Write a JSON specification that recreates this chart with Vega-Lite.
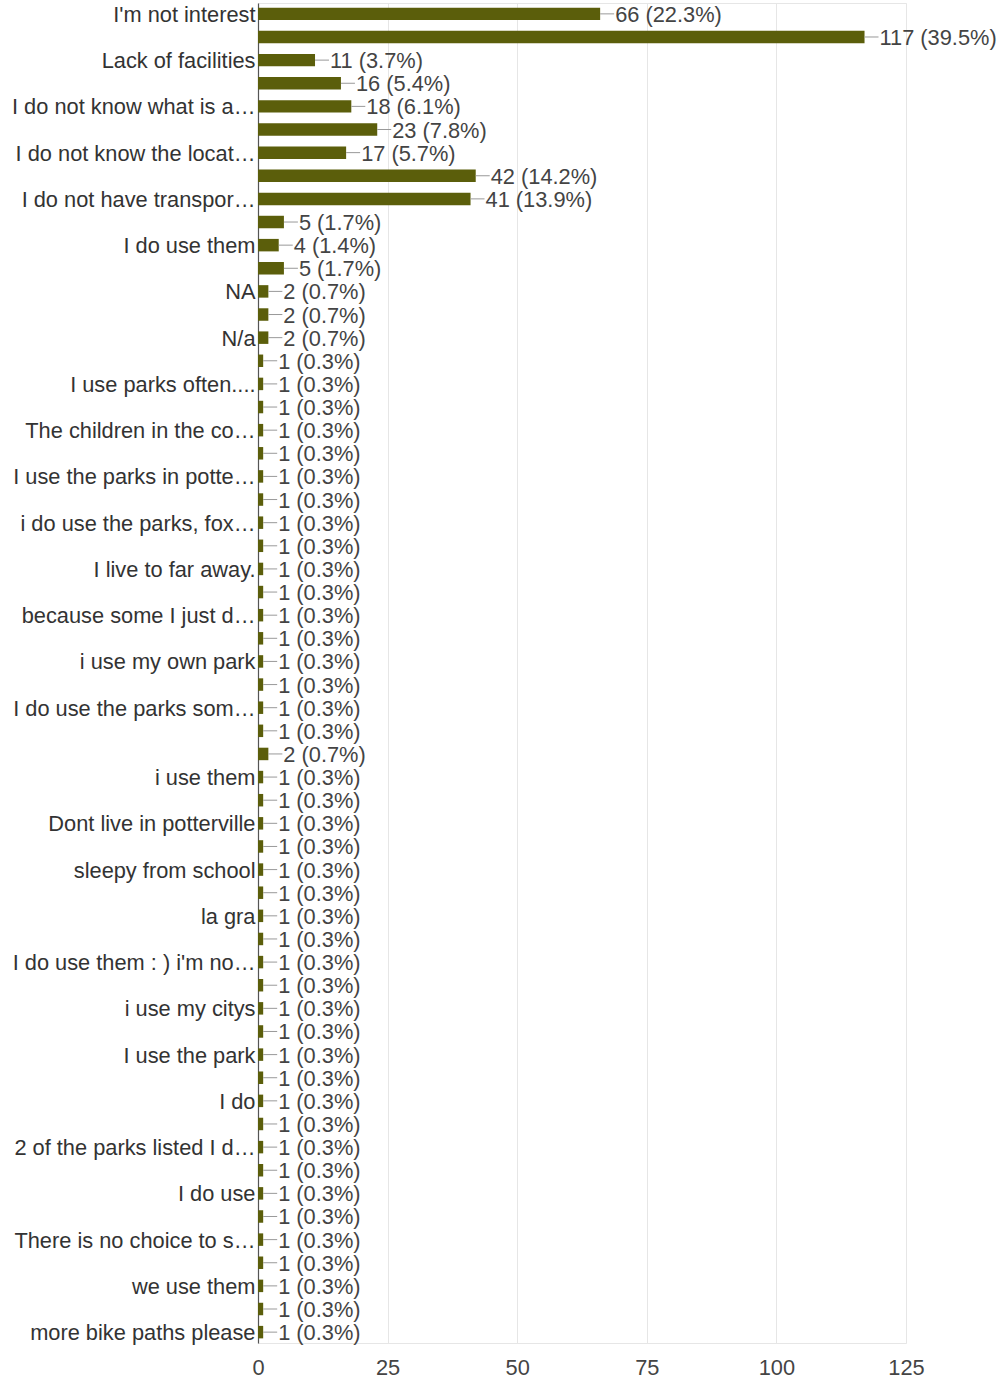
{
  "$schema": "https://vega.github.io/schema/vega-lite/v6.json",
  "autosize": "none",
  "width": 648,
  "height": 1340,
  "padding": {"left": 258, "top": 3, "right": 95, "bottom": 38},
  "background": "white",
  "config": {
    "view": {"stroke": "#e6e6e6", "strokeWidth": 1},
    "font": "Liberation Sans"
  },
  "data": {
    "values": [
      {"k": "I'm not interest", "v": 66, "t": "66 (22.3%)"},
      {"k": "_h02", "v": 117, "t": "117 (39.5%)"},
      {"k": "Lack of facilities", "v": 11, "t": "11 (3.7%)"},
      {"k": "_h04", "v": 16, "t": "16 (5.4%)"},
      {"k": "I do not know what is a…", "v": 18, "t": "18 (6.1%)"},
      {"k": "_h06", "v": 23, "t": "23 (7.8%)"},
      {"k": "I do not know the locat…", "v": 17, "t": "17 (5.7%)"},
      {"k": "_h08", "v": 42, "t": "42 (14.2%)"},
      {"k": "I do not have transpor…", "v": 41, "t": "41 (13.9%)"},
      {"k": "_h10", "v": 5, "t": "5 (1.7%)"},
      {"k": "I do use them", "v": 4, "t": "4 (1.4%)"},
      {"k": "_h12", "v": 5, "t": "5 (1.7%)"},
      {"k": "NA", "v": 2, "t": "2 (0.7%)"},
      {"k": "_h14", "v": 2, "t": "2 (0.7%)"},
      {"k": "N/a", "v": 2, "t": "2 (0.7%)"},
      {"k": "_h16", "v": 1, "t": "1 (0.3%)"},
      {"k": "I use parks often....", "v": 1, "t": "1 (0.3%)"},
      {"k": "_h18", "v": 1, "t": "1 (0.3%)"},
      {"k": "The children in the co…", "v": 1, "t": "1 (0.3%)"},
      {"k": "_h20", "v": 1, "t": "1 (0.3%)"},
      {"k": "I use the parks in potte…", "v": 1, "t": "1 (0.3%)"},
      {"k": "_h22", "v": 1, "t": "1 (0.3%)"},
      {"k": "i do use the parks, fox…", "v": 1, "t": "1 (0.3%)"},
      {"k": "_h24", "v": 1, "t": "1 (0.3%)"},
      {"k": "I live to far away.", "v": 1, "t": "1 (0.3%)"},
      {"k": "_h26", "v": 1, "t": "1 (0.3%)"},
      {"k": "because some I just d…", "v": 1, "t": "1 (0.3%)"},
      {"k": "_h28", "v": 1, "t": "1 (0.3%)"},
      {"k": "i use my own park", "v": 1, "t": "1 (0.3%)"},
      {"k": "_h30", "v": 1, "t": "1 (0.3%)"},
      {"k": "I do use the parks som…", "v": 1, "t": "1 (0.3%)"},
      {"k": "_h32", "v": 1, "t": "1 (0.3%)"},
      {"k": "_h33", "v": 2, "t": "2 (0.7%)"},
      {"k": "i use them", "v": 1, "t": "1 (0.3%)"},
      {"k": "_h35", "v": 1, "t": "1 (0.3%)"},
      {"k": "Dont live in potterville", "v": 1, "t": "1 (0.3%)"},
      {"k": "_h37", "v": 1, "t": "1 (0.3%)"},
      {"k": "sleepy from school", "v": 1, "t": "1 (0.3%)"},
      {"k": "_h39", "v": 1, "t": "1 (0.3%)"},
      {"k": "la gra", "v": 1, "t": "1 (0.3%)"},
      {"k": "_h41", "v": 1, "t": "1 (0.3%)"},
      {"k": "I do use them : ) i'm no…", "v": 1, "t": "1 (0.3%)"},
      {"k": "_h43", "v": 1, "t": "1 (0.3%)"},
      {"k": "i use my citys", "v": 1, "t": "1 (0.3%)"},
      {"k": "_h45", "v": 1, "t": "1 (0.3%)"},
      {"k": "I use the park", "v": 1, "t": "1 (0.3%)"},
      {"k": "_h47", "v": 1, "t": "1 (0.3%)"},
      {"k": "I do", "v": 1, "t": "1 (0.3%)"},
      {"k": "_h49", "v": 1, "t": "1 (0.3%)"},
      {"k": "2 of the parks listed I d…", "v": 1, "t": "1 (0.3%)"},
      {"k": "_h51", "v": 1, "t": "1 (0.3%)"},
      {"k": "I do use", "v": 1, "t": "1 (0.3%)"},
      {"k": "_h53", "v": 1, "t": "1 (0.3%)"},
      {"k": "There is no choice to s…", "v": 1, "t": "1 (0.3%)"},
      {"k": "_h55", "v": 1, "t": "1 (0.3%)"},
      {"k": "we use them", "v": 1, "t": "1 (0.3%)"},
      {"k": "_h57", "v": 1, "t": "1 (0.3%)"},
      {"k": "more bike paths please", "v": 1, "t": "1 (0.3%)"}
    ]
  },
  "encoding": {
    "y": {
      "field": "k",
      "type": "nominal",
      "sort": null,
      "scale": {"paddingInner": 0.46, "paddingOuter": 0.2},
      "axis": {
        "title": null,
        "ticks": false,
        "labelPadding": 3,
        "labelFontSize": 21.8,
        "labelColor": "#333333",
        "labelLimit": 0,
        "labelBaseline": "middle",
        "labelOffset": 1,
        "labelExpr": "indexof(datum.label, '_h') == 0 ? '' : datum.label",
        "domainColor": "#555555",
        "domainWidth": 1.2,
        "grid": false
      }
    }
  },
  "layer": [
    {
      "mark": {"type": "bar", "color": "#5b5e0b"},
      "encoding": {
        "x": {
          "field": "v",
          "type": "quantitative",
          "scale": {"domain": [0, 125], "nice": false},
          "axis": {
            "title": null,
            "values": [0, 25, 50, 75, 100, 125],
            "domain": false,
            "ticks": false,
            "labelFlush": false,
            "labelPadding": 14,
            "labelFontSize": 21.8,
            "labelColor": "#444444",
            "gridColor": "#e6e6e6",
            "gridWidth": 1
          }
        }
      }
    },
    {
      "mark": {"type": "rule", "color": "#999999", "strokeWidth": 1, "x2Offset": 14},
      "encoding": {
        "x": {"field": "v", "type": "quantitative"},
        "x2": {"field": "v"}
      }
    },
    {
      "mark": {"type": "text", "align": "left", "baseline": "middle", "dx": 15, "dy": 1, "fontSize": 21.8, "color": "#444444"},
      "encoding": {
        "x": {"field": "v", "type": "quantitative"},
        "text": {"field": "t"}
      }
    }
  ]
}
